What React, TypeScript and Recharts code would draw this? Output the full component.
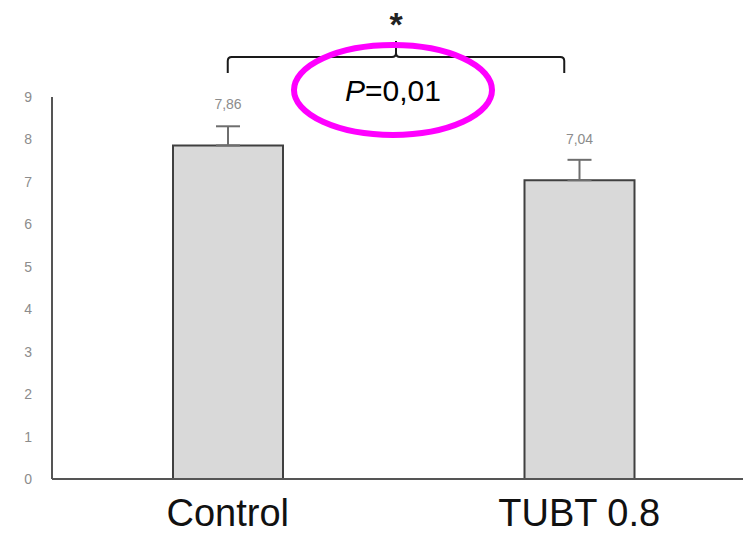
import React from "react";
import { BarChart, Bar, XAxis, YAxis, ErrorBar, LabelList, Customized } from "recharts";

const categories = ["Control", "TUBT 0.8"];
const means = [7.86, 7.04];
const errors = [0.45, 0.48];
const yTicks = [0, 1, 2, 3, 4, 5, 6, 7, 8, 9];
const pLabel = "0,01";
const starLabel = "*";

const data = categories.map((c, i) => ({ name: c, value: means[i], err: [0, errors[i]] }));

const W = 755;
const H = 534;
const M = { top: 97, right: 0, left: 0, bottom: 0 };
const YW = 52;
const XH = 55;

const Annot = () => {
  const plotW = W - M.left - M.right - YW;
  const band = plotW / categories.length;
  const x0 = M.left + YW;
  const c1 = x0 + band * 0.5;
  const c2 = x0 + band * 1.5 - 15;
  const mid = (c1 + c2) / 2;
  const by = 57;
  const bd = 73;
  return (
    <g>
      <path
        d={`M${c1},${bd} L${c1},${by + 4} Q${c1},${by} ${c1 + 4},${by} L${mid - 4},${by} Q${mid},${by} ${mid},${by - 4} L${mid},${by - 16} M${mid},${by - 4} Q${mid},${by} ${mid + 4},${by} L${c2 - 4},${by} Q${c2},${by} ${c2},${by + 4} L${c2},${bd}`}
        fill="none"
        stroke="#1a1a1a"
        strokeWidth={2}
      />
      <text x={mid} y={36} textAnchor="middle" fontSize={34} fontWeight="bold" fill="#222" fontFamily="Liberation Sans, Arial, sans-serif">
        {starLabel}
      </text>
      <ellipse cx={mid - 3} cy={90} rx={99} ry={45} fill="none" stroke="#ff00ff" strokeWidth={6} />
      <text x={mid - 3} y={101} textAnchor="middle" fontSize={30} fill="#000" fontFamily="Liberation Sans, Arial, sans-serif">
        <tspan fontStyle="italic">P</tspan>={pLabel}
      </text>
    </g>
  );
};

export default function App() {
  return (
    <div style={{ position: "absolute", left: 0, top: 0, width: 743, height: 534, overflow: "hidden", background: "#fff" }}>
      <BarChart width={W} height={H} data={data} margin={M}>
        <XAxis
          dataKey="name"
          height={XH}
          tickLine={false}
          tickSize={0}
          tickMargin={20}
          axisLine={{ stroke: "#555", strokeWidth: 2 }}
          tick={{ fontSize: 38, fill: "#111", fontFamily: "Liberation Sans, Arial, sans-serif" }}
        />
        <YAxis
          width={YW}
          domain={[0, 9]}
          ticks={yTicks}
          interval={0}
          tickLine={false}
          tickSize={0}
          tickMargin={20}
          axisLine={{ stroke: "#555", strokeWidth: 2 }}
          tick={{ fontSize: 14, fill: "#8c8c8c", fontFamily: "Liberation Sans, Arial, sans-serif" }}
        />
        <Bar dataKey="value" fill="#d9d9d9" stroke="#404040" strokeWidth={2} barSize={110} isAnimationActive={false}>
          <ErrorBar dataKey="err" direction="y" width={12} stroke="#6e6e6e" strokeWidth={2} />
          <LabelList
            dataKey="value"
            position="top"
            offset={36}
            formatter={(v: any) => String(v).replace(".", ",")}
            style={{ fontSize: 14, fill: "#8c8c8c", fontFamily: "Liberation Sans, Arial, sans-serif" }}
          />
        </Bar>
        <Customized component={Annot} />
      </BarChart>
    </div>
  );
}
